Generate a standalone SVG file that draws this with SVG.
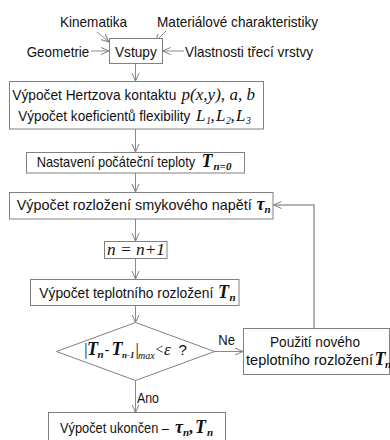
<svg xmlns="http://www.w3.org/2000/svg" width="390" height="440" viewBox="0 0 390 440">
<defs>
<style>
.t{font-family:"Liberation Sans",Arial,sans-serif;font-size:15px;fill:#111}
.m{font-family:"Liberation Serif","Times New Roman",serif;font-style:italic;font-size:17px;fill:#111}
.b{font-family:"Liberation Serif","Times New Roman",serif;font-style:italic;font-weight:bold;font-size:18px;fill:#111}
.s{font-family:"Liberation Serif","Times New Roman",serif;font-style:italic;font-weight:normal;font-size:10px;fill:#111}
.sb{font-family:"Liberation Serif","Times New Roman",serif;font-style:italic;font-weight:bold;font-size:11px;fill:#111}
.up{font-family:"Liberation Sans",Arial,sans-serif;font-style:normal;font-weight:normal;font-size:15px}
.box{fill:#fff;stroke:#808080;stroke-width:1}
.c{fill:none;stroke:#8a8a8a;stroke-width:1}
</style>
<marker id="ah" markerWidth="10" markerHeight="10" refX="8" refY="4" orient="auto" markerUnits="userSpaceOnUse">
<path d="M0,0.5 L8,4 L0,7.5" fill="none" stroke="#808080" stroke-width="1"/>
</marker>
</defs>
<rect width="390" height="440" fill="#fff"/>

<g id="connectors">
<line class="c" x1="97" y1="32" x2="109" y2="42" marker-end="url(#ah)"/>
<line class="c" x1="166" y1="31" x2="155" y2="42" marker-end="url(#ah)"/>
<line class="c" x1="91" y1="51" x2="109" y2="51" marker-end="url(#ah)"/>
<line class="c" x1="184" y1="51" x2="162.5" y2="51" marker-end="url(#ah)"/>
<line class="c" x1="135.5" y1="63.5" x2="135.5" y2="81" marker-end="url(#ah)"/>
<line class="c" x1="135.5" y1="129" x2="135.5" y2="152" marker-end="url(#ah)"/>
<line class="c" x1="135.5" y1="173" x2="135.5" y2="192" marker-end="url(#ah)"/>
<line class="c" x1="135.5" y1="219" x2="135.5" y2="241" marker-end="url(#ah)"/>
<line class="c" x1="135.5" y1="258.5" x2="135.5" y2="279" marker-end="url(#ah)"/>
<line class="c" x1="135.5" y1="305.5" x2="135.5" y2="322.5" marker-end="url(#ah)"/>
<line class="c" x1="135.5" y1="380.5" x2="135.5" y2="412.5" marker-end="url(#ah)"/>
<line class="c" x1="214.5" y1="351.5" x2="243" y2="351.5" marker-end="url(#ah)"/>
<polyline class="c" points="314,328 314,205 273.5,205" marker-end="url(#ah)" style="stroke:#9a9a9a;stroke-width:1.5"/>
<text class="t" x="218.3" y="345" textLength="16.7" lengthAdjust="spacingAndGlyphs">Ne</text>
<text class="t" x="137" y="403" textLength="22" lengthAdjust="spacingAndGlyphs">Ano</text>
</g>

<g id="inputs">
<text class="t" x="60" y="27" textLength="67" lengthAdjust="spacingAndGlyphs">Kinematika</text>
<text class="t" x="157" y="27" textLength="161" lengthAdjust="spacingAndGlyphs">Materiálové charakteristiky</text>
<text class="t" x="26.7" y="57" textLength="62.6" lengthAdjust="spacingAndGlyphs">Geometrie</text>
<text class="t" x="185" y="57" textLength="128" lengthAdjust="spacingAndGlyphs">Vlastnosti třecí vrstvy</text>
</g>

<g id="vstupy">
<rect class="box" x="109.5" y="38.5" width="53" height="25"/>
<text class="t" x="115" y="56.5" textLength="41.7" lengthAdjust="spacingAndGlyphs">Vstupy</text>
</g>

<g id="hertz">
<rect class="box" x="9.5" y="81.5" width="254" height="47.5"/>
<text class="t" x="12.3" y="99.5" textLength="164" lengthAdjust="spacingAndGlyphs">Výpočet Hertzova kontaktu</text>
<text class="m" x="181.5" y="99.5" textLength="73.5" lengthAdjust="spacingAndGlyphs">p(x,y), a, b</text>
<text class="t" x="18.3" y="120.5" textLength="172" lengthAdjust="spacingAndGlyphs">Výpočet koeficientů flexibility</text>
<text class="m" y="120.5"><tspan x="196">L</tspan><tspan class="s" x="206" y="123.5">1</tspan><tspan x="210.5" y="120.5">,</tspan><tspan x="216">L</tspan><tspan class="s" x="226" y="123.5">2</tspan><tspan x="230.5" y="120.5">,</tspan><tspan x="236">L</tspan><tspan class="s" x="246" y="123.5">3</tspan></text>
</g>

<g id="init">
<rect class="box" x="26.5" y="152.5" width="218" height="20.5"/>
<text class="t" x="36.7" y="167" textLength="158.5" lengthAdjust="spacingAndGlyphs">Nastavení počáteční teploty</text>
<text class="b" y="167"><tspan x="201.5">T</tspan><tspan class="sb" x="213.5" y="170">n=0</tspan></text>
</g>

<g id="shear">
<rect class="box" x="9.5" y="192.5" width="263.5" height="26.5"/>
<text class="t" x="16.7" y="210" textLength="235" lengthAdjust="spacingAndGlyphs">Výpočet rozložení smykového napětí</text>
<text class="b" y="210"><tspan x="256.5">τ</tspan><tspan class="sb" x="264.5" y="213">n</tspan></text>
</g>

<g id="increment">
<rect class="box" x="104.5" y="241.5" width="62.5" height="17"/>
<text class="m" x="107" y="254.5" textLength="58" lengthAdjust="spacingAndGlyphs">n = n+1</text>
</g>

<g id="temp">
<rect class="box" x="30.5" y="279.5" width="208.5" height="26"/>
<text class="t" x="39.3" y="297.5" textLength="174" lengthAdjust="spacingAndGlyphs">Výpočet teplotního rozložení</text>
<text class="b" y="297.5"><tspan x="218">T</tspan><tspan class="sb" x="229.5" y="300.5">n</tspan></text>
</g>

<g id="check">
<polygon class="box" points="135.5,322.5 214.5,351.5 135.5,380.5 56.5,351.5"/>
<text class="m" y="355"><tspan x="83.3">|</tspan><tspan class="b" x="87">T</tspan><tspan class="sb" x="97.5" y="358">n</tspan><tspan class="up" x="104.5" y="355">-</tspan><tspan class="b" x="111.5">T</tspan><tspan class="sb" x="122" y="358" style="font-size:9px">n-1</tspan><tspan x="134.5" y="355">|</tspan><tspan class="s" x="138" y="358.5">max</tspan><tspan x="155.5" y="354" style="font-style:normal;font-size:14px">&lt;</tspan><tspan x="164" y="355">ε</tspan><tspan class="up" x="178.5">?</tspan></text>
</g>

<g id="update">
<rect class="box" x="243.5" y="328.5" width="146" height="46"/>
<text class="t" x="270" y="346.5" textLength="90" lengthAdjust="spacingAndGlyphs">Použití nového</text>
<text class="t" x="246" y="365" textLength="127" lengthAdjust="spacingAndGlyphs">teplotního rozložení</text>
<text class="b" y="365"><tspan x="374.5">T</tspan><tspan class="sb" x="385" y="368">n</tspan></text>
</g>

<g id="done">
<rect class="box" x="48.5" y="412.5" width="177" height="40"/>
<text class="t" x="60" y="433.3" textLength="109" lengthAdjust="spacingAndGlyphs">Výpočet ukončen –</text>
<text class="b" y="433.3"><tspan x="175">τ</tspan><tspan class="sb" x="183" y="436.3">n</tspan><tspan class="m" x="189.5" y="433.3">,</tspan><tspan x="195">T</tspan><tspan class="sb" x="207" y="436.3">n</tspan></text>
</g>
</svg>
